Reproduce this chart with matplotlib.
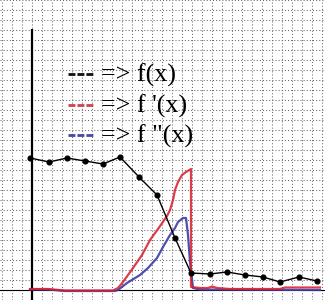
import matplotlib
matplotlib.use("Agg")
import matplotlib.pyplot as plt

# Units: 1 unit = one grid cell
f_x = [-0.2, 1.7, 3.5, 5.3, 7.1, 8.8, 10.7, 12.5, 14.3, 15.9, 17.8, 19.5, 21.3, 23.1, 24.8, 26.7, 28.5]
f_y = [13.2, 12.8, 13.2, 12.9, 12.6, 13.3, 11.3, 9.5, 5.2, 1.7, 1.6, 1.8, 1.5, 1.3, 0.8, 1.3, 0.9]

d1_x = [-0.2, 1.6, 3.3, 8.1, 8.6, 9.1, 10.1, 11.0, 11.8, 12.6, 13.5, 13.8, 14.1, 14.3, 14.6,
        15.0, 15.4, 15.9, 15.9, 16.8, 17.6, 18.0, 18.5, 19.8, 24.8, 25.3, 28.8]
d1_y = [0.1, 0.1, -0.05, -0.05, 0.2, 0.8, 2.2, 3.5, 5.0, 6.1, 7.4, 8.0, 9.0, 10.0, 10.8,
        11.5, 11.8, 12.1, 0.3, 0.2, 0.2, 0.35, 0.2, 0.1, 0.1, 0.25, 0.25]

d2_x = [-0.2, 1.6, 3.3, 8.3, 8.6, 9.5, 10.8, 11.6, 12.5, 13.1, 13.8, 14.3, 14.6, 15.1, 15.4,
        15.6, 15.8, 16.1, 16.8, 28.8]
d2_y = [0.05, 0.05, -0.1, -0.1, 0.0, 0.7, 1.5, 2.2, 3.2, 4.3, 5.5, 6.2, 6.8, 7.2, 7.2,
        5.5, 2.8, 0.2, 0.05, 0.0]

legend_labels = ["=> f(x)", "=> f '(x)", '=> f "(x)']
legend_colors = ["#111111", "#d0404e", "#4848a0"]

W, H = 325, 300
fig = plt.figure(figsize=(W / 100, H / 100), dpi=100)
ax = fig.add_axes([0, 0, 1, 1])
ax.set_xlim(-3.2, 29.3)
ax.set_ylim(-1.0, 29.0)
ax.set_xticks(range(-3, 30))
ax.set_yticks(range(-1, 30))
ax.tick_params(length=0, labelbottom=False, labelleft=False)
for s in ax.spines.values():
    s.set_visible(False)
ax.set_axisbelow(True)
ax.grid(True, color="#6a6a6a", linestyle=(0, (1, 2)), linewidth=0.75)

# axes
ax.plot([0, 0], [-1.0, 26.1], color="black", lw=1.6, solid_capstyle="butt", zorder=2)
ax.axhline(0, color="black", lw=0.8, zorder=2)

ax.plot(d2_x, d2_y, color="#3c3ca8", lw=1.6, alpha=0.9, zorder=3)
ax.plot(d1_x, d1_y, color="#d81c2c", lw=1.6, alpha=0.85, zorder=4)
ax.plot(f_x, f_y, color="black", lw=1.0, marker="o", markersize=3.4, zorder=5)

# legend drawn as text
plt.rcParams["lines.scale_dashes"] = False
dash_rows = [74, 105, 135]
base_rows = [82, 113, 143]
for lab, col, dy, by in zip(legend_labels, legend_colors, dash_rows, base_rows):
    ax.plot([68 / W, 93 / W], [1 - dy / H, 1 - dy / H], transform=ax.transAxes,
            color=col, lw=2.0, dashes=(5.0, 1.45), solid_capstyle="butt",
            dash_capstyle="butt")
    fig.text(101 / W, 1 - by / H, lab, family="Liberation Serif", fontsize=18.7,
             va="baseline", ha="left", color="black")

fig.savefig("out.png", dpi=100)
